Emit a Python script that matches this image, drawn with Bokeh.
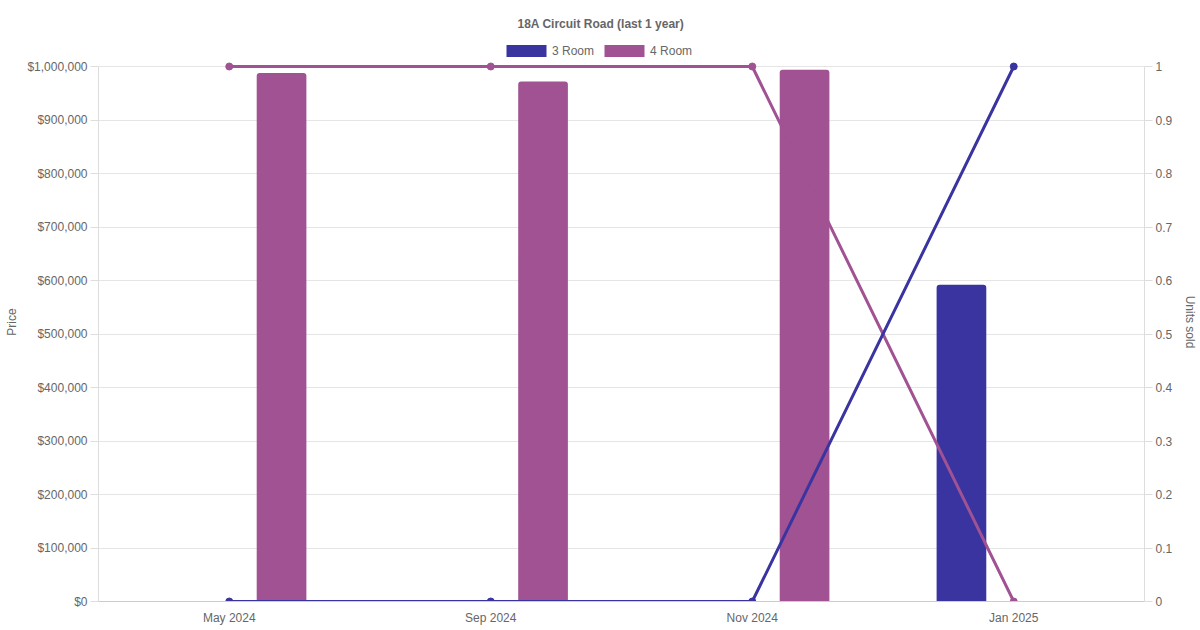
from bokeh.plotting import figure
from bokeh.models import (Range1d, FactorRange, LinearAxis, FixedTicker,
                          NumeralTickFormatter, Legend, LegendItem, ColumnDataSource)
from bokeh.transform import dodge
from bokeh.embed import file_html
from bokeh.resources import INLINE

# ---- data ----
months = ["May 2024", "Sep 2024", "Nov 2024", "Jan 2025"]
price_3room = [None, None, None, 592000]
price_4room = [988000, 972000, 994000, None]
units_3room = [0, 0, 0, 1]
units_4room = [1, 1, 1, 0]
price_max = 1000000
units_max = 1
price_ticks = [i * 100000 for i in range(11)]
unit_ticks = [round(i / 10, 1) for i in range(11)]

BLUE = "#3a34a0"
PURPLE = "#a05293"
GREY = "#666666"
FONT = "Liberation Sans"

# layout (pixels): frame reaches up to FRAME_TOP so the legend can live in it;
# the value axes themselves span PLOT_TOP..PLOT_BOTTOM
FRAME_TOP, PLOT_TOP, PLOT_BOTTOM = 42, 66, 601
head = (PLOT_BOTTOM - FRAME_TOP) / (PLOT_BOTTOM - PLOT_TOP)

p = figure(width=1200, height=630,
           x_range=FactorRange(*months, range_padding=0),
           y_range=Range1d(0, price_max * head),
           output_backend="svg", toolbar_location=None,
           min_border_left=98, min_border_right=53,
           min_border_top=FRAME_TOP, min_border_bottom=630 - PLOT_BOTTOM)
p.extra_y_ranges = {"units": Range1d(0, units_max * head)}
p.outline_line_color = None
p.background_fill_color = "white"
p.border_fill_color = "white"

p.title.text = "18A Circuit Road (last 1 year)"
p.title.align = "left"
p.title.offset = 419
p.title.standoff = 24
p.title.text_font = FONT
p.title.text_font_size = "12px"
p.title.text_font_style = "bold"
p.title.text_color = GREY

# bars
src3 = ColumnDataSource(dict(x=[m for m, v in zip(months, price_3room) if v is not None],
                             top=[v for v in price_3room if v is not None]))
src4 = ColumnDataSource(dict(x=[m for m, v in zip(months, price_4room) if v is not None],
                             top=[v for v in price_4room if v is not None]))
r3 = p.vbar(x=dodge("x", -0.2, range=p.x_range), top="top", width=0.19, source=src3,
            fill_color=BLUE, line_color=None, border_radius=(3, 3, 0, 0))
r4 = p.vbar(x=dodge("x", 0.2, range=p.x_range), top="top", width=0.19, source=src4,
            fill_color=PURPLE, line_color=None, border_radius=(3, 3, 0, 0))

# lines (units sold, right axis)
p.line(months, units_4room, y_range_name="units", line_color=PURPLE, line_width=3)
p.scatter(months, units_4room, y_range_name="units", size=7, fill_color=PURPLE, line_color=PURPLE)
p.line(months, units_3room, y_range_name="units", line_color=BLUE, line_width=3)
p.scatter(months, units_3room, y_range_name="units", size=7, fill_color=BLUE, line_color=BLUE)

# axes
AX = "#dddddd"
yl = p.yaxis[0]
yl.ticker = FixedTicker(ticks=price_ticks)
yl.formatter = NumeralTickFormatter(format="$0,0")
yl.bounds = (0, price_max)
yl.axis_label = "Price"
yr = LinearAxis(y_range_name="units", ticker=FixedTicker(ticks=unit_ticks),
                formatter=NumeralTickFormatter(format="0.[0]"),
                bounds=(0, units_max), axis_label="Units sold")
p.add_layout(yr, "right")

for ax in (yl, yr):
    ax.major_tick_in = 0
    ax.major_tick_out = 8
    ax.minor_tick_line_color = None
    ax.major_tick_line_color = AX
    ax.axis_line_color = AX
    ax.major_label_standoff = 3
    ax.major_label_text_font = FONT
    ax.major_label_text_font_size = "12px"
    ax.major_label_text_color = GREY
    ax.axis_label_text_font = FONT
    ax.axis_label_text_font_size = "12px"
    ax.axis_label_text_font_style = "normal"
    ax.axis_label_text_color = GREY
yl.axis_label_standoff = 5
yr.axis_label_standoff = 8

xa = p.xaxis[0]
xa.major_tick_in = 0
xa.major_tick_out = 0
xa.major_tick_line_color = None
xa.axis_line_color = "#cccccc"
xa.major_label_standoff = 9
xa.major_label_text_font = FONT
xa.major_label_text_font_size = "12px"
xa.major_label_text_color = GREY

p.xgrid.grid_line_color = None
p.ygrid.grid_line_color = "#e5e5e5"

legend = Legend(items=[LegendItem(label="3 Room", renderers=[r3]),
                       LegendItem(label="4 Room", renderers=[r4])],
                orientation="horizontal", location=(403, 543),
                glyph_width=50, glyph_height=15, label_height=15,
                label_standoff=1, spacing=5, padding=0, margin=0,
                border_line_color=None, background_fill_alpha=0,
                label_text_font=FONT, label_text_font_size="12px",
                label_text_color=GREY)
p.add_layout(legend, "center")

open("out.html", "w").write(file_html(p, INLINE))
